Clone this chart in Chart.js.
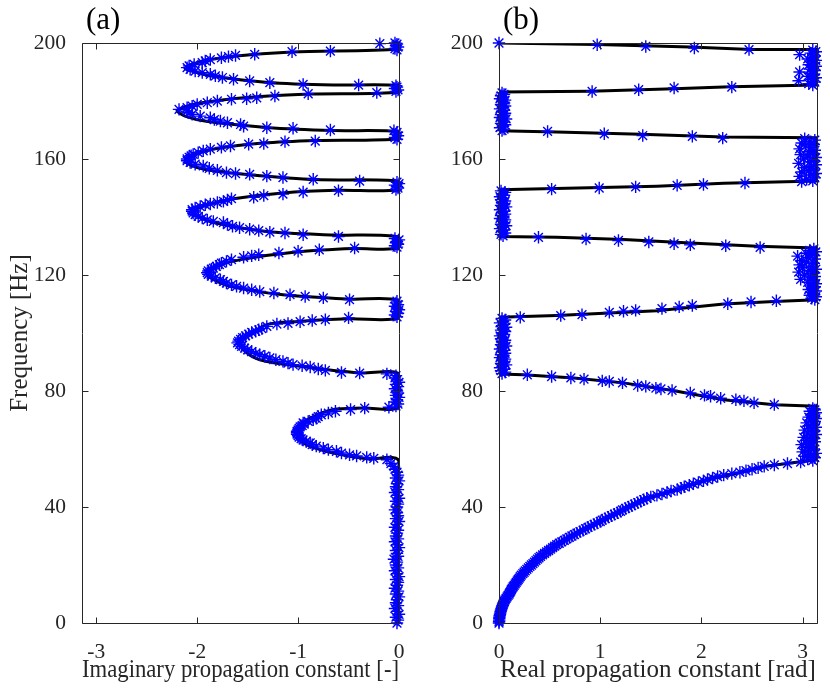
<!DOCTYPE html>
<html lang="en">
<head>
<meta charset="UTF-8">
<title>Propagation constants</title>
<script src="https://cdn.jsdelivr.net/npm/chart.js"></script>
<style>
  body { margin: 0; background: #fff; }
  #wrap { position: relative; width: 830px; height: 693px; }
  canvas { position: absolute; top: 0; }
  #imagChart { left: 0; }
  #realChart { left: 415px; }
</style>
</head>
<body>
<div id="wrap">
  <canvas id="imagChart" width="415" height="693"></canvas>
  <canvas id="realChart" width="415" height="693"></canvas>
</div>
<script>
const PI = Math.PI;
const freqTicks = [0, 40, 80, 120, 160, 200];
const imagTicks = [-3, -2, -1, 0];
const realTicks = [0, 1, 2, 3];

// (a) black curve: frequency / imaginary part
const imagLineF = [0, 55.7, 56.6, 58.6, 60.9, 63.0, 65.5, 68.5, 71.2, 73.6, 74.1, 74.5,
  85.9, 86.2, 88.5, 90.8, 93.5, 96.6, 99.4, 102.9, 104.0, 104.9, 105.2,
  111.2, 111.7, 113.2, 115.9, 118.5, 120.9, 123.2, 125.3, 127.9, 129.1, 129.3,
  133.1, 133.8, 135.0, 138.1, 140.0, 141.9, 144.2, 146.3, 148.3, 149.2, 149.4,
  152.3, 152.9, 154.6, 156.3, 157.8, 159.4, 161.5, 163.6, 165.5, 166.4, 167.0,
  169.4, 169.8, 170.9, 173.0, 174.8, 176.7, 178.0, 179.3, 181.2, 182.4, 183.0,
  185.3, 185.5, 186.4, 188.5, 190.0, 191.4, 193.5, 195.4, 196.9, 197.9, 200];
const imagLineX = [0, 0, -0.32, -0.65, -0.88, -0.98, -1.01, -0.97, -0.85, -0.65, -0.35, 0,
  0, -0.39, -0.98, -1.38, -1.52, -1.57, -1.48, -1.31, -1.00, -0.50, 0,
  0, -0.49, -1.15, -1.65, -1.84, -1.91, -1.80, -1.57, -1.02, -0.45, 0,
  0, -0.65, -1.31, -1.84, -1.98, -2.04, -1.90, -1.64, -1.15, -0.62, 0,
  0, -0.82, -1.48, -1.91, -2.06, -2.12, -2.03, -1.81, -1.35, -0.82, 0,
  0, -0.65, -1.31, -1.91, -2.12, -2.20, -2.12, -1.97, -1.51, -0.88, 0,
  0, -0.65, -1.30, -1.84, -2.02, -2.12, -1.97, -1.64, -1.06, 0, 0];

// (a) markers
const imagMarkF = [0, 1, 2, 3, 4, 5, 6, 7, 8, 9, 10, 11, 12, 13, 14, 15, 16, 17, 18, 19, 20, 21, 22, 23, 24, 25, 26, 27,
  28, 29, 30, 31, 32, 33, 34, 35, 36, 37, 38, 39, 40, 41, 42, 43, 44, 45, 46, 47, 48, 49, 50, 51, 52, 53, 54, 55,
  56.3, 56.8, 57.1, 57.6, 58.0, 58.6, 59.2, 59.8, 60.3, 61.0, 61.5, 62.1, 62.6, 63.1, 63.6, 64.1, 64.6, 65.1,
  65.6, 66.1, 66.6, 67.1, 67.6, 68.1, 68.6, 69.0, 69.5, 70.1, 70.6, 71.2, 71.8, 72.4, 73.0, 73.6, 74.1, 74.4,
  74.8, 75.5, 76.2, 77.0, 77.8, 78.5, 79.3, 80.0, 80.8, 81.5, 82.3, 83.0, 83.8, 84.5, 85.3,
  85.9, 86.2, 86.4, 87.1, 87.6, 88.3, 88.7, 89.1, 89.6, 90.2, 90.8, 91.4, 92.0, 92.5, 93.0, 93.6, 94.2, 94.8,
  95.4, 96.0, 96.6, 97.2, 97.8, 98.4, 99.0, 99.6, 100.2, 100.6, 101.1, 101.5, 102.3, 103.1, 103.3, 103.9, 104.3, 104.6,
  105.2, 105.6, 106.2, 106.8, 107.4, 108.0, 108.6, 109.2, 109.8, 110.4, 111.0,
  111.5, 112.1, 112.6, 113.2, 113.8, 114.3, 114.9, 115.5, 116.1, 116.6, 117.2, 117.8, 118.4, 119.0, 119.6, 120.2,
  120.8, 121.4, 122.0, 122.4, 123.0, 123.6, 124.1, 124.7, 125.3, 126.1, 126.6, 127.0, 127.6, 128.2, 128.7, 129.3,
  129.6, 130.1, 130.6, 131.1, 131.6, 132.1, 132.6,
  133.3, 133.9, 134.5, 134.8, 135.3, 135.8, 136.3, 136.8, 137.4, 138.1, 138.5, 139.0, 139.6, 140.2, 140.8, 141.4,
  142.0, 142.5, 143.1, 143.6, 144.2, 144.5, 145.0, 145.4, 145.9, 146.3, 146.8, 147.4, 147.9, 148.6, 149.1,
  149.5, 150.0, 150.5, 151.0, 151.5, 152.0,
  152.4, 153.0, 153.6, 154.1, 154.7, 155.0, 155.3, 156.1, 156.8, 157.6, 158.2, 158.8, 159.4,
  160.0, 160.6, 161.1, 161.6, 162.2, 162.8, 163.4, 164.0, 164.5, 165.1, 165.3, 166.0, 166.2,
  166.8, 167.4, 168.0, 168.6, 169.2, 169.8,
  170.0, 170.6, 170.8, 171.3, 171.9, 172.5, 173.1, 173.6, 174.2, 174.8, 175.4, 176.0, 176.5,
  177.1, 177.7, 178.2, 178.8, 179.4, 180.0, 180.6, 180.8, 181.1, 181.7, 182.5, 182.9,
  183.3, 183.8, 184.3, 184.8, 185.3,
  185.5, 185.7, 186.3, 186.9, 187.5, 188.1, 188.7, 189.2, 189.8, 190.3, 190.9, 191.5,
  192.1, 192.6, 193.2, 193.8, 194.3, 194.9, 195.3, 195.7, 196.1, 197.0, 197.2, 199.8,
  197.6, 198.1, 198.6, 199.1, 199.6, 200.0];
const imagMarkX = [-0.02, -0.01, -0.03, 0, -0.02, -0.04, -0.01, -0.03, -0.02, 0, -0.03, -0.01, -0.04, -0.02, -0.01, -0.03, 0, -0.02, -0.04, -0.01, -0.03, -0.02, -0.05, -0.01, -0.02, -0.03, 0, -0.02,
  -0.04, -0.01, -0.03, -0.02, -0.01, -0.04, -0.02, 0, -0.03, -0.01, -0.02, -0.04, -0.02, -0.01, -0.03, 0, -0.02, -0.04, -0.01, -0.03, -0.02, 0, -0.03, -0.01, -0.02, -0.04, -0.05, -0.08,
  -0.12, -0.25, -0.32, -0.42, -0.49, -0.57, -0.62, -0.70, -0.75, -0.82, -0.86, -0.88, -0.92, -0.95, -0.97, -0.99, -1.00, -1.01,
  -1.01, -1.01, -1.00, -0.99, -0.98, -0.96, -0.94, -0.95, -0.90, -0.85, -0.82, -0.80, -0.77, -0.70, -0.63, -0.48, -0.34, -0.10,
  -0.03, -0.01, -0.04, -0.02, 0, -0.03, -0.01, -0.02, -0.04, -0.01, -0.03, 0, -0.02, -0.04, -0.03,
  -0.12, -0.39, -0.57, -0.73, -0.80, -0.88, -0.96, -1.05, -1.10, -1.15, -1.22, -1.28, -1.33, -1.38, -1.42, -1.46, -1.50, -1.53,
  -1.56, -1.58, -1.60, -1.59, -1.57, -1.55, -1.52, -1.49, -1.46, -1.42, -1.39, -1.36, -1.31, -1.21, -1.10, -0.98, -0.86, -0.73,
  -0.50, -0.02, -0.04, -0.01, -0.03, 0, -0.02, -0.04, -0.01, -0.03, -0.02,
  -0.49, -0.75, -0.93, -1.08, -1.24, -1.38, -1.46, -1.54, -1.61, -1.66, -1.71, -1.74, -1.77, -1.82, -1.86, -1.89,
  -1.90, -1.89, -1.86, -1.84, -1.81, -1.78, -1.76, -1.71, -1.66, -1.54, -1.46, -1.39, -1.19, -1.00, -0.79, -0.44,
  -0.02, -0.04, -0.01, -0.03, -0.02, 0, -0.04,
  -0.60, -0.95, -1.13, -1.28, -1.39, -1.48, -1.58, -1.65, -1.70, -1.74, -1.84, -1.90, -1.95, -1.99, -2.02, -2.04,
  -2.05, -2.05, -2.02, -1.97, -1.92, -1.87, -1.80, -1.74, -1.70, -1.66, -1.44, -1.34, -1.15, -0.95, -0.60,
  -0.03, -0.01, -0.02, -0.04, 0, -0.02,
  -0.39, -0.85, -1.15, -1.31, -1.48, -1.62, -1.71, -1.80, -1.88, -1.94, -2.02, -2.07, -2.10,
  -2.10, -2.08, -2.06, -2.04, -1.99, -1.94, -1.87, -1.76, -1.67, -1.49, -1.34, -1.13, -0.83,
  -0.02, -0.04, -0.01, -0.03, -0.02, -0.05,
  -0.68, -1.05, -1.31, -1.54, -1.57, -1.70, -1.77, -1.83, -1.87, -1.97, -2.05, -2.08, -2.10,
  -2.18, -2.10, -2.05, -2.00, -1.90, -1.80, -1.66, -1.51, -1.41, -1.23, -0.90, -0.22,
  -0.03, -0.01, -0.04, -0.02, -0.03,
  -0.40, -0.95, -1.28, -1.48, -1.64, -1.75, -1.82, -1.87, -1.95, -2.02, -2.07, -2.10,
  -2.08, -2.03, -1.95, -1.92, -1.87, -1.76, -1.69, -1.62, -1.43, -1.06, -0.68, -0.19,
  -0.02, -0.04, -0.01, -0.03, -0.02, -0.04];

// (b) black curve: frequency / real part
const realLineF = [0, 2, 5, 8, 10.3, 13.5, 17.2, 20, 23.0, 27.0, 30.4, 34.5, 39.1, 43.1, 46.0, 49.4, 51.7, 54.0, 55.2, 56.3,
  74.7, 75.3, 77.0, 80.1, 82.8, 84.5, 85.6, 85.9,
  105.4, 106.0, 107.7, 110.0, 110.9, 111.5,
  129.3, 129.9, 131.0, 132.2, 133.0, 133.3,
  149.4, 150.6, 151.6, 152.4,
  167.3, 167.6, 168.5, 169.3, 169.7,
  183.1, 183.4, 184.2, 184.9, 185.5,
  197.8, 197.8, 198.6, 199.5, 200];
const realLineX = [0, 0.003, 0.025, 0.06, 0.11, 0.16, 0.24, 0.31, 0.41, 0.57, 0.74, 0.97, 1.23, 1.47, 1.76, 2.06, 2.36, 2.62, 2.88, PI,
  PI, 2.72, 2.22, 1.73, 1.23, 0.74, 0.24, 0,
  0, 0.57, 1.56, 2.22, 2.72, PI,
  PI, 2.55, 1.89, 1.23, 0.57, 0,
  0, 1.56, 2.22, PI,
  PI, 2.22, 1.40, 0.57, 0,
  0, 0.90, 1.73, 2.29, PI,
  PI, 2.49, 1.89, 0.97, 0];

// (b) markers
const realMarkF = [0, 1, 2, 3, 4, 5, 6, 7, 8, 9, 10, 11, 12, 13, 14, 15, 16, 17, 18, 19, 20, 21, 22, 23, 24, 25, 26, 27,
  28, 29, 30, 31, 32, 33, 34, 35, 36, 37, 38, 39, 40, 41, 42, 43, 44, 45, 46, 47, 48, 49, 50, 51, 52, 53, 54, 55,
  0.5, 1.5, 2.5, 3.5, 4.5, 5.5, 6.5, 7.5, 8.5, 9.5, 10.5, 11.5, 12.5, 13.5, 14.5, 15.5, 16.5, 17.5, 18.5, 19.5, 20.5, 21.5, 22.5, 23.5, 24.5, 25.5, 26.5, 27.5,
  28.5, 29.5, 30.5, 31.5, 32.5, 33.5, 34.5, 35.5, 36.5, 37.5, 38.5, 39.5, 40.5, 41.5, 42.5, 43.5, 44.5, 45.5, 46.5, 47.5, 48.5, 49.5, 50.5, 51.5, 52.5, 53.5, 54.5, 55.5,
  56.0, 56.5, 57.0, 57.5, 58.0, 58.5, 59.0, 59.5, 60.0, 60.5, 61.0, 61.5, 62.0, 62.5, 63.0, 63.5, 64.0, 64.5, 65.0,
  65.5, 66.0, 66.5, 67.0, 67.5, 68.0, 68.5, 69.0, 69.5, 70.0, 70.5, 71.0, 71.5, 72.0, 72.5, 73.0, 73.5, 74.0,
  75.3, 75.9, 76.6, 77.0, 77.5, 78.2, 78.5, 79.3, 80.2, 80.7, 81.0, 81.6, 81.9, 82.8, 83.3, 83.5, 84.1, 84.5, 85.0, 85.6,
  86.0, 86.5, 87.0, 87.5, 88.0, 88.5, 89.0, 89.5, 90.0, 90.5, 91.0, 91.5, 92.0, 92.5, 93.0, 93.5, 94.0, 94.5, 95.0, 95.5,
  96.0, 96.5, 97.0, 97.5, 98.0, 98.5, 99.0, 99.5, 100.0, 100.5, 101.0, 101.5, 102.0, 102.5, 103.0, 103.5, 104.0, 104.5, 105.0,
  105.4, 106.0, 106.3, 107.1, 107.5, 107.8, 108.4, 109.0, 109.5, 110.1, 110.7, 111.1,
  111.5, 112.0, 112.5, 113.0, 113.5, 114.0, 114.5, 115.0, 115.5, 116.0, 116.5, 117.0,
  117.5, 118.0, 118.5, 119.0, 119.5, 120.0, 120.5, 121.0, 121.5, 122.0, 122.5, 123.0,
  123.5, 124.0, 124.5, 125.0, 125.5, 126.0, 126.5, 127.0, 127.5, 128.0, 128.5, 129.0,
  129.5, 130.1, 130.4, 130.8, 131.4, 131.9, 132.4, 133.0,
  133.5, 134.0, 134.5, 135.0, 135.5, 136.0, 136.5, 137.0, 137.5, 138.0, 138.5, 139.0, 139.5, 140.0, 140.5, 141.0,
  141.5, 142.0, 142.5, 143.0, 143.5, 144.0, 144.5, 145.0, 145.5, 146.0, 146.5, 147.0, 147.5, 148.0, 148.5, 149.0,
  149.6, 150.0, 150.4, 150.9, 151.2, 151.7, 152.2,
  152.5, 153.0, 153.5, 154.0, 154.5, 155.0, 155.5, 156.0, 156.5, 157.0, 157.5, 158.0, 158.5, 159.0, 159.5,
  160.0, 160.5, 161.0, 161.5, 162.0, 162.5, 163.0, 163.5, 164.0, 164.5, 165.0, 165.5, 166.0, 166.5, 167.0,
  167.2, 167.8, 168.1, 168.7, 169.5,
  169.8, 170.3, 170.8, 171.3, 171.8, 172.3, 172.8, 173.3, 173.8, 174.3, 174.8, 175.3, 175.8, 176.3,
  176.8, 177.3, 177.8, 178.3, 178.8, 179.3, 179.8, 180.3, 180.8, 181.3, 181.8, 182.3, 182.8,
  183.3, 183.9, 184.5, 184.8,
  185.5, 186.0, 186.5, 187.0, 187.5, 188.0, 188.5, 189.0, 189.5, 190.0, 190.5, 191.0, 191.5,
  192.0, 192.5, 193.0, 193.5, 194.0, 194.5, 195.0, 195.5, 196.0, 196.5, 197.0, 197.5,
  197.7, 198.3, 198.8, 199.4, 200.0];
const realMarkX = [0, 0.002, 0.004, 0.01, 0.016, 0.025, 0.035, 0.046, 0.06, 0.08, 0.10, 0.115, 0.13, 0.15, 0.17, 0.19, 0.21, 0.235, 0.26, 0.29, 0.32, 0.35, 0.38, 0.41, 0.45, 0.49, 0.53, 0.57,
  0.62, 0.67, 0.72, 0.77, 0.83, 0.88, 0.94, 1.00, 1.05, 1.11, 1.17, 1.22, 1.28, 1.34, 1.40, 1.46, 1.56, 1.66, 1.76, 1.83, 1.92, 2.02, 2.11, 2.22, 2.38, 2.50, 2.62, 2.85,
  0.001, 0.003, 0.007, 0.013, 0.02, 0.03, 0.04, 0.053, 0.07, 0.09, 0.107, 0.122, 0.14, 0.16, 0.18, 0.20, 0.22, 0.248, 0.275, 0.305, 0.335, 0.365, 0.395, 0.43, 0.47, 0.51, 0.55, 0.595,
  0.645, 0.695, 0.745, 0.80, 0.855, 0.91, 0.97, 1.02, 1.08, 1.14, 1.20, 1.25, 1.31, 1.37, 1.43, 1.50, 1.61, 1.70, 1.80, 1.88, 1.97, 2.06, 2.16, 2.30, 2.44, 2.56, 2.72, 2.98,
  3.10, 3.05, 3.12, 3.02, 3.08, 3.13, 3.00, 3.06, 3.11, 3.03, 3.09, 2.99, 3.07, 3.12, 3.04, 3.10, 3.01, 3.08, 3.13,
  3.05, 3.11, 3.02, 3.09, 3.13, 3.06, 3.11, 3.04, 3.12, 3.08, 3.13, 3.06, 3.11, 3.09, 3.13, 3.07, 3.12, 3.10,
  2.72, 2.52, 2.42, 2.34, 2.19, 2.09, 2.03, 1.89, 1.71, 1.60, 1.55, 1.45, 1.37, 1.22, 1.09, 1.02, 0.84, 0.71, 0.52, 0.28,
  0.03, 0.06, 0.02, 0.05, 0.01, 0.04, 0.07, 0.02, 0.05, 0.03, 0.06, 0.01, 0.04, 0.02, 0.06, 0.03, 0.05, 0.01, 0.04, 0.07,
  0.02, 0.05, 0.03, 0.06, 0.02, 0.04, 0.01, 0.05, 0.03, 0.06, 0.02, 0.04, 0.07, 0.03, 0.05, 0.01, 0.04, 0.06, 0.03,
  0.21, 0.61, 0.82, 1.09, 1.23, 1.35, 1.61, 1.78, 1.91, 2.26, 2.49, 2.74,
  3.12, 3.09, 3.13, 3.07, 3.11, 3.08, 3.13, 3.06, 3.10, 3.12, 3.08, 3.13,
  3.05, 3.11, 2.98, 3.08, 3.12, 3.02, 3.10, 2.96, 3.06, 3.13, 3.00, 3.09,
  2.97, 3.11, 3.04, 2.99, 3.12, 3.06, 2.95, 3.10, 3.03, 3.13, 3.07, 3.11,
  2.58, 2.24, 1.89, 1.73, 1.48, 1.18, 0.86, 0.39,
  0.04, 0.02, 0.06, 0.03, 0.05, 0.01, 0.04, 0.07, 0.02, 0.05, 0.03, 0.06, 0.01, 0.04, 0.02, 0.06,
  0.03, 0.05, 0.01, 0.04, 0.07, 0.02, 0.05, 0.03, 0.06, 0.02, 0.04, 0.01, 0.05, 0.03, 0.06, 0.02,
  0.52, 0.99, 1.35, 1.76, 2.02, 2.43, 2.99,
  3.10, 3.04, 3.12, 2.97, 3.08, 3.13, 2.99, 3.06, 3.11, 3.02, 3.09, 3.13, 2.96, 3.07, 3.11,
  3.01, 3.13, 3.05, 2.98, 3.10, 3.06, 3.12, 2.97, 3.08, 3.03, 3.11, 2.99, 3.07, 3.12, 3.02,
  2.21, 1.91, 1.42, 1.04, 0.48,
  0.03, 0.05, 0.01, 0.04, 0.06, 0.02, 0.05, 0.03, 0.07, 0.01, 0.04, 0.02, 0.06, 0.03,
  0.05, 0.01, 0.04, 0.06, 0.02, 0.05, 0.03, 0.06, 0.01, 0.04, 0.02, 0.05, 0.03,
  0.92, 1.38, 1.73, 2.30,
  3.10, 3.06, 3.12, 2.96, 3.09, 3.13, 3.05, 3.11, 3.08, 2.97, 3.12, 3.07, 3.10,
  3.13, 3.06, 3.11, 3.09, 3.13, 3.05, 3.10, 3.12, 2.97, 3.08, 3.13, 3.10,
  2.47, 1.93, 1.45, 0.97, 0.0];

function pts(fs, xs) {
  const n = Math.min(fs.length, xs.length);
  const out = [];
  for (let i = 0; i < n; i++) out.push({ x: xs[i], y: fs[i] });
  return out;
}

const axisColor = '#262626';
const serif = '"Liberation Serif", "Times New Roman", serif';

// box, inward ticks on all four sides, panel letter
const frame = {
  id: 'frame',
  afterDraw(chart, args, opts) {
    const { ctx, chartArea: a, scales: { x, y } } = chart;
    const L = Math.round(a.left) + 0.5, R = Math.round(a.right) + 0.5;
    const T = Math.round(a.top) + 0.5, B = Math.round(a.bottom) + 0.5;
    const len = 6;
    ctx.save();
    ctx.strokeStyle = axisColor;
    ctx.lineWidth = 1;
    ctx.beginPath();
    ctx.rect(L, T, R - L, B - T);
    x.ticks.forEach(t => {
      const px = Math.round(x.getPixelForValue(t.value)) + 0.5;
      ctx.moveTo(px, B); ctx.lineTo(px, B - len);
      ctx.moveTo(px, T); ctx.lineTo(px, T + len);
    });
    y.ticks.forEach(t => {
      const py = Math.round(y.getPixelForValue(t.value)) + 0.5;
      ctx.moveTo(L, py); ctx.lineTo(L + len, py);
      ctx.moveTo(R, py); ctx.lineTo(R - len, py);
    });
    ctx.stroke();
    ctx.fillStyle = '#000';
    ctx.font = '31px ' + serif;
    ctx.textBaseline = 'alphabetic';
    ctx.fillText(opts.label, opts.labelX, 29);
    ctx.restore();
  }
};

function makeChart(id, cfg) {
  return new Chart(document.getElementById(id), {
    type: 'scatter',
    data: {
      datasets: [
        {
          data: pts(cfg.markF, cfg.markX),
          pointStyle: 'star',
          pointRadius: 6.2,
          pointBorderColor: '#0000ff',
          pointBackgroundColor: '#0000ff',
          pointBorderWidth: 1.4,
          clip: false,
          order: 0
        },
        {
          data: pts(cfg.lineF, cfg.lineX),
          showLine: true,
          borderColor: '#000',
          borderWidth: 3,
          pointRadius: 0,
          tension: cfg.tension,
          order: 1
        }
      ]
    },
    options: {
      responsive: false,
      animation: false,
      layout: { padding: { top: 43, right: cfg.padRight, left: 0, bottom: 0 } },
      plugins: {
        legend: { display: false },
        tooltip: { enabled: false },
        frame: { label: cfg.label, labelX: cfg.labelX }
      },
      scales: {
        x: {
          type: 'linear',
          min: cfg.xMin,
          max: cfg.xMax,
          afterBuildTicks: s => { s.ticks = cfg.xTicks.map(v => ({ value: v })); },
          afterFit: s => { s.height = 70; },
          grid: { display: false },
          border: { display: false },
          ticks: {
            autoSkip: false, maxRotation: 0, padding: 8, color: axisColor,
            font: { family: serif, size: 21.5 },
            callback: v => String(v)
          },
          title: {
            display: true, text: cfg.xTitle, color: axisColor,
            font: { family: serif, size: 25 },
            padding: { top: 0, bottom: 8 }
          }
        },
        y: {
          type: 'linear',
          min: 0,
          max: 200,
          afterBuildTicks: s => { s.ticks = freqTicks.map(v => ({ value: v })); },
          afterFit: s => { s.width = cfg.yWidth; },
          grid: { display: false },
          border: { display: false },
          ticks: {
            autoSkip: false, padding: 8, color: axisColor,
            font: { family: serif, size: 21.5 },
            callback: v => String(v)
          },
          title: {
            display: cfg.yTitle !== '', text: cfg.yTitle, color: axisColor,
            font: { family: serif, size: 25 },
            padding: { top: 5, bottom: 0 }
          }
        }
      }
    },
    plugins: [frame]
  });
}

makeChart('imagChart', {
  lineF: imagLineF, lineX: imagLineX, markF: imagMarkF, markX: imagMarkX,
  xMin: -PI, xMax: 0, xTicks: imagTicks, tension: 0.3,
  xTitle: 'Imaginary propagation constant [-]', yTitle: 'Frequency [Hz]',
  yWidth: 82, padRight: 16, label: '(a)', labelX: 86
});

makeChart('realChart', {
  lineF: realLineF, lineX: realLineX, markF: realMarkF, markX: realMarkX,
  xMin: 0, xMax: PI, xTicks: realTicks, tension: 0,
  xTitle: 'Real propagation constant [rad]', yTitle: '',
  yWidth: 84, padRight: 13, label: '(b)', labelX: 88
});
</script>
</body>
</html>
